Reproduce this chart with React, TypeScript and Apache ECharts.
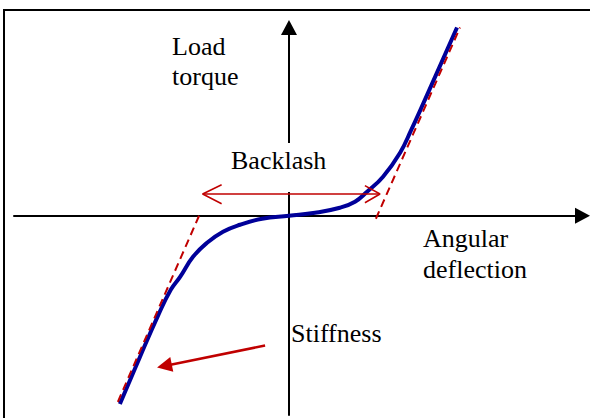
import React, { useEffect, useRef } from "react";
import * as echarts from "echarts";

// Angular deflection (x) and load torque (y) in arbitrary units
const curveX = [-6.15, -5.42, -4.75, -4.3, -3.96, -3.49, -2.98, -2.4, -1.78, -0.98, 0, 0.95, 1.85, 2.4, 2.84, 3.42, 4.04, 4.45, 4.8, 6.11];
const curveY = [-9.4, -7.05, -4.95, -3.7, -3.05, -2.05, -1.35, -0.8, -0.45, -0.15, 0, 0.15, 0.4, 0.7, 1.2, 1.95, 3.15, 4.3, 5.35, 9.4];

const tangentLeftX = [-3.27, -6.29];
const tangentLeftY = [0, -9.5];
const tangentRightX = [3.16, 6.22];
const tangentRightY = [-0.15, 9.4];

const backlashY = 1.085;
const backlashX = [-3.14, 3.31];
const headLeftX = [-2.45, -3.14, -2.45];
const headLeftY = [1.55, 1.085, 0.6];
const headRightX = [2.76, 3.31, 2.76];
const headRightY = [1.5, 1.085, 0.65];

const stiffnessFrom = [-0.87, -6.48];
const stiffnessTo = [-4.53, -7.5];

const labels = [
  { text: "Load", x: 172, y: 46 },
  { text: "torque", x: 172, y: 76 },
  { text: "Backlash", x: 231, y: 160 },
  { text: "Angular", x: 423, y: 238 },
  { text: "deflection", x: 423, y: 269.5 },
  { text: "Stiffness", x: 291, y: 333.5 },
];

const RED = "#c00000";
const BLUE = "#000099";
const FONT = "'Liberation Serif', 'Times New Roman', 'DejaVu Serif', serif";

const zip = (xs: number[], ys: number[]) => xs.map((x, i) => [x, ys[i]]);

export default function App() {
  const ref = useRef<HTMLDivElement>(null);
  useEffect(() => {
    if (!ref.current) return;
    const chart = echarts.init(ref.current, null, { renderer: "svg" });
    const axisCommon = {
      type: "value" as const,
      axisLine: {
        onZero: true,
        lineStyle: { color: "#000", width: 2 },
        symbol: ["none", "triangle"],
        symbolSize: [16, 15],
      },
      axisTick: { show: false },
      axisLabel: { show: false },
      splitLine: { show: false },
    };
    const redLine = (data: number[][], dashed: boolean, width: number, z: number) => ({
      type: "line",
      data,
      symbol: "none",
      lineStyle: { color: RED, width, type: dashed ? [8, 5] : "solid" },
      z,
      silent: true,
    });
    chart.setOption({
      animation: false,
      backgroundColor: "#fff",
      textStyle: { fontFamily: FONT },
      grid: { left: 14, right: 7.5, top: 27.5, bottom: 3 },
      xAxis: { ...axisCommon, min: -10, max: 10.673 },
      yAxis: { ...axisCommon, min: -9.95, max: 9.4 },
      series: [
        {
          type: "line",
          data: zip(curveX, curveY),
          smooth: 0.45,
          symbol: "none",
          lineStyle: { color: BLUE, width: 4 },
          z: 2,
          silent: true,
        },
        redLine(zip(tangentLeftX, tangentLeftY), true, 2, 3),
        redLine(zip(tangentRightX, tangentRightY), true, 2, 3),
        redLine(backlashX.map((x) => [x, backlashY]), false, 1.5, 4),
        redLine(zip(headLeftX, headLeftY), false, 1.5, 4),
        redLine(zip(headRightX, headRightY), false, 1.5, 4),
        {
          type: "lines",
          coordinateSystem: "cartesian2d",
          data: [{ coords: [stiffnessFrom, stiffnessTo] }],
          symbol: ["none", "triangle"],
          symbolSize: 15,
          lineStyle: { color: RED, width: 2.5, curveness: 0, opacity: 1 },
          z: 5,
          silent: true,
        },
      ],
      graphic: [
        {
          type: "rect",
          shape: { x: 4, y: 10, width: 700, height: 500 },
          style: { fill: "none", stroke: "#000", lineWidth: 2 },
          z: 0,
          silent: true,
        },
        {
          type: "rect",
          shape: { x: 225, y: 143, width: 110, height: 49 },
          style: { fill: "#fff" },
          zlevel: 1,
          z: 100,
          silent: true,
        },
        ...labels.map((l) => ({
          type: "text",
          x: l.x,
          y: l.y,
          zlevel: 1,
          z: 101,
          silent: true,
          style: {
            text: l.text,
            fill: "#000",
            fontFamily: FONT,
            fontSize: 26,
            align: "left",
            verticalAlign: "middle",
          },
        })),
      ],
    });
    return () => chart.dispose();
  }, []);
  return (
    <div
      ref={ref}
      style={{ position: "absolute", left: 0, top: 0, width: 590, height: 418 }}
    />
  );
}
